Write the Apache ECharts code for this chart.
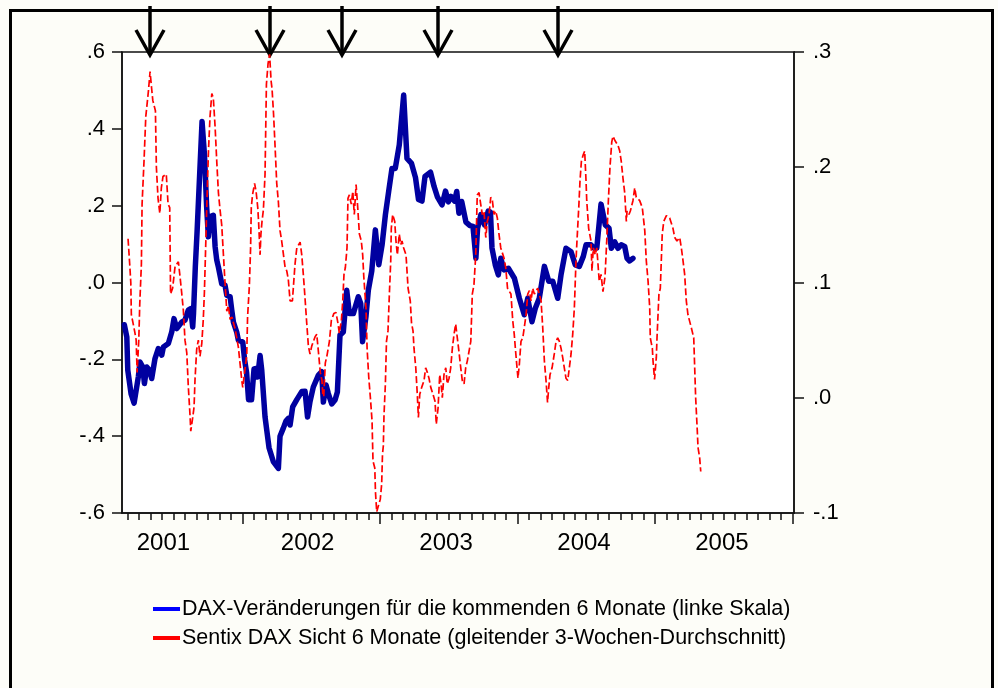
<!DOCTYPE html>
<html>
<head>
<meta charset="utf-8">
<script src="https://cdn.jsdelivr.net/npm/echarts@6/dist/echarts.min.js"></script>
<style>
  html, body { margin: 0; padding: 0; background: #fdfdf8; }
  #chart { width: 998px; height: 688px; }
</style>
</head>
<body>
<div id="chart"></div>
<script>
// DAX change over the following 6 months (left scale); dates as decimal years
const daxDates = [
  2001.142,2001.160,2001.167,2001.191,2001.213,2001.244,2001.256,2001.276,2001.288,2001.305,
  2001.324,2001.341,2001.365,2001.389,2001.414,2001.426,2001.462,2001.487,2001.503,2001.523,
  2001.559,2001.583,2001.607,2001.625,2001.639,2001.645,2001.658,2001.671,2001.707,2001.725,
  2001.740,2001.753,2001.765,2001.789,2001.802,2001.814,2001.826,2001.850,2001.874,2001.887,
  2001.911,2001.923,2001.935,2001.959,2001.971,2002.003,2002.016,2002.031,2002.045,2002.067,
  2002.085,2002.100,2002.111,2002.129,2002.141,2002.165,2002.194,2002.225,2002.262,2002.274,
  2002.298,2002.318,2002.334,2002.347,2002.366,2002.396,2002.432,2002.456,2002.474,2002.492,
  2002.516,2002.553,2002.577,2002.589,2002.609,2002.625,2002.650,2002.674,2002.691,2002.710,
  2002.734,2002.759,2002.778,2002.807,2002.843,2002.861,2002.874,2002.899,2002.916,2002.941,
  2002.967,2002.992,2003.016,2003.040,2003.064,2003.088,2003.112,2003.141,2003.173,2003.197,
  2003.230,2003.259,2003.281,2003.306,2003.328,2003.368,2003.394,2003.419,2003.452,2003.477,
  2003.498,2003.517,2003.543,2003.559,2003.575,2003.595,2003.626,2003.655,2003.677,2003.698,
  2003.710,2003.735,2003.761,2003.788,2003.804,2003.815,2003.839,2003.861,2003.879,2003.903,
  2003.934,2003.978,2004.014,2004.050,2004.075,2004.106,2004.130,2004.159,2004.196,2004.228,
  2004.257,2004.293,2004.317,2004.353,2004.390,2004.421,2004.450,2004.479,2004.499,2004.535,
  2004.559,2004.577,2004.608,2004.639,2004.666,2004.683,2004.707,2004.731,2004.755,2004.780,
  2004.797,2004.816,2004.840
];
const daxChange = [
  -0.110,-0.142,-0.228,-0.290,-0.314,-0.245,-0.207,-0.220,-0.263,-0.220,
  -0.228,-0.250,-0.198,-0.172,-0.189,-0.168,-0.159,-0.128,-0.094,-0.120,
  -0.103,-0.098,-0.072,-0.068,-0.116,-0.080,0.040,0.133,0.419,0.330,
  0.200,0.119,0.171,0.175,0.093,0.058,0.040,-0.003,-0.007,-0.033,
  -0.037,-0.072,-0.103,-0.129,-0.150,-0.155,-0.200,-0.235,-0.305,-0.305,
  -0.225,-0.224,-0.246,-0.190,-0.228,-0.350,-0.430,-0.466,-0.484,-0.400,
  -0.379,-0.360,-0.354,-0.371,-0.324,-0.305,-0.284,-0.283,-0.350,-0.310,
  -0.272,-0.241,-0.232,-0.311,-0.267,-0.289,-0.316,-0.306,-0.285,-0.137,
  -0.129,-0.020,-0.081,-0.081,-0.037,-0.055,-0.154,-0.088,-0.020,0.030,
  0.137,0.046,0.098,0.176,0.237,0.297,0.297,0.358,0.488,0.323,
  0.310,0.273,0.216,0.212,0.276,0.287,0.250,0.222,0.202,0.238,
  0.210,0.224,0.212,0.237,0.180,0.211,0.157,0.148,0.146,0.063,
  0.140,0.177,0.150,0.186,0.183,0.090,0.046,0.020,0.063,0.033,
  0.037,0.011,-0.041,-0.084,-0.041,-0.102,-0.067,-0.041,0.042,0.003,
  0.003,-0.041,0.020,0.089,0.080,0.046,0.042,0.068,0.098,0.098,
  0.089,0.090,0.204,0.150,0.141,0.089,0.106,0.089,0.098,0.094,
  0.063,0.056,0.063
];

// Sentix DAX 6-month view, 3-week moving average (right scale)
const sentixDates = [
  2001.169,2001.181,2001.189,2001.193,2001.205,2001.218,2001.228,2001.235,2001.247,2001.254,
  2001.266,2001.271,2001.285,2001.298,2001.317,2001.329,2001.340,2001.349,2001.368,2001.375,
  2001.387,2001.400,2001.411,2001.423,2001.447,2001.460,2001.472,2001.478,2001.493,2001.511,
  2001.535,2001.547,2001.559,2001.571,2001.583,2001.596,2001.607,2001.620,2001.625,2001.637,
  2001.649,2001.656,2001.668,2001.680,2001.692,2001.705,2001.716,2001.724,2001.732,2001.746,
  2001.754,2001.765,2001.778,2001.789,2001.802,2001.814,2001.826,2001.838,2001.850,2001.862,
  2001.874,2001.887,2001.898,2001.911,2001.925,2001.935,2001.947,2001.959,2001.971,2001.983,
  2001.996,2002.003,2002.012,2002.023,2002.032,2002.038,2002.051,2002.060,2002.065,2002.074,
  2002.089,2002.100,2002.112,2002.118,2002.129,2002.135,2002.143,2002.153,2002.165,2002.175,
  2002.187,2002.198,2002.209,2002.216,2002.227,2002.238,2002.250,2002.262,2002.274,2002.286,
  2002.298,2002.310,2002.323,2002.334,2002.347,2002.364,2002.371,2002.383,2002.396,2002.420,
  2002.432,2002.444,2002.456,2002.468,2002.480,2002.492,2002.505,2002.529,2002.541,2002.553,
  2002.567,2002.579,2002.585,2002.592,2002.603,2002.616,2002.633,2002.647,2002.665,2002.681,
  2002.696,2002.705,2002.720,2002.730,2002.739,2002.749,2002.761,2002.768,2002.778,2002.792,
  2002.803,2002.814,2002.827,2002.839,2002.851,2002.865,2002.875,2002.883,2002.899,2002.907,
  2002.919,2002.931,2002.943,2002.950,2002.963,2002.968,2002.977,2002.987,2003.003,2003.013,
  2003.019,2003.025,2003.030,2003.040,2003.048,2003.059,2003.069,2003.079,2003.083,2003.093,
  2003.108,2003.117,2003.127,2003.141,2003.152,2003.161,2003.173,2003.190,2003.205,2003.221,
  2003.230,2003.241,2003.248,2003.261,2003.272,2003.280,2003.290,2003.304,2003.321,2003.333,
  2003.345,2003.357,2003.370,2003.386,2003.401,2003.410,2003.423,2003.435,2003.445,2003.454,
  2003.466,2003.479,2003.490,2003.503,2003.515,2003.527,2003.539,2003.551,2003.563,2003.575,
  2003.588,2003.599,2003.612,2003.624,2003.636,2003.648,2003.661,2003.672,2003.684,2003.697,
  2003.708,2003.721,2003.733,2003.745,2003.757,2003.770,2003.781,2003.794,2003.806,2003.818,
  2003.830,2003.842,2003.854,2003.866,2003.879,2003.890,2003.903,2003.915,2003.928,2003.953,
  2003.966,2003.977,2003.985,2003.995,2004.004,2004.014,2004.026,2004.039,2004.050,2004.063,
  2004.075,2004.087,2004.099,2004.111,2004.123,2004.135,2004.148,2004.159,2004.172,2004.184,
  2004.196,2004.208,2004.219,2004.228,2004.237,2004.252,2004.268,2004.281,2004.293,2004.305,
  2004.317,2004.329,2004.341,2004.353,2004.366,2004.377,2004.390,2004.402,2004.414,2004.426,
  2004.433,2004.446,2004.455,2004.465,2004.479,2004.489,2004.499,2004.504,2004.518,2004.535,
  2004.542,2004.552,2004.566,2004.577,2004.584,2004.595,2004.608,2004.622,2004.637,2004.649,
  2004.661,2004.673,2004.686,2004.695,2004.710,2004.731,2004.744,2004.755,2004.768,2004.780,
  2004.792,2004.797,2004.811,2004.821,2004.840,2004.853,2004.864,2004.889,2004.908,2004.926,
  2004.937,2004.950,2004.962,2004.966,2004.981,2004.986,2004.997,2005.010,2005.015,2005.029,
  2005.039,2005.053,2005.064,2005.083,2005.095,2005.107,2005.131,2005.144,2005.160,2005.180,
  2005.192,2005.204,2005.216,2005.228,2005.240,2005.264,2005.282,2005.289,2005.296,2005.308,
  2005.313,2005.325,2005.333
];
const sentixValue = [
  0.138,0.116,0.100,0.072,0.065,0.057,0.050,0.022,0.050,0.081,
  0.116,0.168,0.205,0.244,0.266,0.283,0.269,0.258,0.249,0.200,
  0.173,0.160,0.182,0.192,0.194,0.168,0.165,0.090,0.095,0.114,
  0.118,0.105,0.091,0.076,0.050,0.039,0.010,-0.016,-0.029,-0.019,
  -0.008,0.016,0.042,0.050,0.036,0.047,0.068,0.091,0.125,0.185,
  0.215,0.244,0.264,0.260,0.235,0.205,0.178,0.163,0.150,0.125,
  0.100,0.075,0.080,0.068,0.070,0.065,0.060,0.052,0.044,0.030,
  0.015,0.009,0.018,0.028,0.037,0.070,0.097,0.130,0.165,0.176,
  0.186,0.179,0.165,0.153,0.124,0.142,0.153,0.163,0.194,0.272,
  0.290,0.298,0.275,0.268,0.246,0.218,0.186,0.170,0.145,0.136,
  0.125,0.114,0.110,0.103,0.084,0.084,0.096,0.116,0.130,0.135,
  0.124,0.106,0.086,0.065,0.045,0.038,0.045,0.053,0.055,0.040,
  0.022,0.015,0.003,0.001,0.030,0.037,0.049,0.067,0.073,0.074,
  0.064,0.056,0.067,0.084,0.107,0.113,0.130,0.173,0.176,0.168,
  0.179,0.159,0.185,0.165,0.142,0.136,0.124,0.105,0.078,0.043,
  0.018,0.000,-0.020,-0.055,-0.061,-0.082,-0.099,-0.098,-0.088,-0.075,
  -0.049,-0.042,-0.015,0.012,0.049,0.058,0.090,0.119,0.147,0.159,
  0.153,0.136,0.124,0.142,0.133,0.136,0.130,0.124,0.095,0.084,
  0.065,0.058,0.043,0.026,0.003,-0.017,0.003,0.009,0.015,0.026,
  0.022,0.017,0.009,0.003,-0.003,-0.023,-0.009,0.020,0.012,0.000,
  0.020,0.026,0.012,0.017,0.026,0.043,0.055,0.064,0.052,0.040,
  0.026,0.015,0.012,0.026,0.032,0.032,0.049,0.090,0.098,0.124,
  0.176,0.178,0.168,0.159,0.162,0.139,0.153,0.159,0.174,0.171,
  0.159,0.162,0.156,0.142,0.130,0.130,0.121,0.113,0.095,0.090,
  0.067,0.055,0.043,0.029,0.017,0.029,0.049,0.052,0.061,0.072,
  0.090,0.093,0.084,0.095,0.090,0.093,0.095,0.090,0.084,0.061,
  0.032,0.015,-0.004,0.009,0.020,0.026,0.038,0.049,0.052,0.049,
  0.043,0.035,0.026,0.017,0.015,0.015,0.038,0.055,0.078,0.119,
  0.136,0.165,0.188,0.205,0.211,0.214,0.188,0.171,0.147,0.136,
  0.110,0.130,0.124,0.130,0.119,0.101,0.107,0.092,0.105,0.135,
  0.170,0.200,0.222,0.227,0.223,0.219,0.214,0.205,0.190,0.178,
  0.153,0.162,0.159,0.162,0.171,0.182,0.174,0.171,0.165,0.145,
  0.119,0.101,0.078,0.052,0.043,0.032,0.016,0.035,0.052,0.090,
  0.095,0.142,0.153,0.158,0.159,0.156,0.147,0.139,0.136,0.139,
  0.130,0.119,0.107,0.084,0.072,0.061,0.052,0.026,0.000,-0.029,
  -0.043,-0.052,-0.064
];

// Dates flagged with arrows above the plot
const arrowDates = [2001.329, 2002.201, 2002.728, 2003.425, 2004.297];

// Time axis: visible range, year boundaries and year-label anchors
const xRange = [2001.125, 2006.011];
const yearTicks = [2002, 2003, 2004, 2005, 2006];
const yearLabelAnchors = [2001.426, 2002.474, 2003.481, 2004.484, 2005.487];

const seriesNames = [
  'DAX-Veränderungen für die kommenden 6 Monate (linke Skala)',
  'Sentix DAX Sicht 6 Monate (gleitender 3-Wochen-Durchschnitt)'
];

// monthly minor ticks (skipping the year boundaries)
const monthTicks = [];
for (let y = 2001; y <= 2005; y++) {
  for (let m = 1; m < 12; m++) {
    const v = y + m / 12;
    if (v > xRange[0] && v < xRange[1]) monthTicks.push(v);
  }
}

const FONT = '"Liberation Sans", Arial, Helvetica, sans-serif';
const AXIS_COLOR = '#111';

// ".6", "-.2", ".0" style labels
function dotLabel(v) {
  const s = Math.abs(v).toFixed(1).replace(/^0/, '');
  return (v < -1e-9 ? '-' : '') + s;
}

function pairs(xs, ys) { return xs.map((x, i) => [x, ys[i]]); }

const chart = echarts.init(document.getElementById('chart'), null, { renderer: 'canvas' });

const option = {
  backgroundColor: '#fdfdf8',
  animation: false,
  grid: {
    left: 122, top: 52, right: 204, bottom: 175,
    show: true, backgroundColor: '#ffffff', borderColor: AXIS_COLOR, borderWidth: 1.5
  },
  legend: {
    orient: 'vertical', left: 148, top: 593,
    itemWidth: 27, itemHeight: 4, itemGap: 7, icon: 'rect',
    textStyle: { fontFamily: FONT, fontSize: 21.5, color: '#000', lineHeight: 22, padding: [0, 0, 0, -3] },
    data: [
      { name: seriesNames[0], itemStyle: { color: '#0000ff' } },
      { name: seriesNames[1], itemStyle: { color: '#ff0000' } }
    ]
  },
  xAxis: [
    {
      type: 'value', min: xRange[0], max: xRange[1],
      axisLine: { show: true, onZero: false, lineStyle: { color: AXIS_COLOR, width: 1.5 } },
      axisTick: { show: true, customValues: yearTicks, length: 11, lineStyle: { color: AXIS_COLOR, width: 1.5 } },
      axisLabel: {
        show: true, customValues: yearLabelAnchors, margin: 18,
        formatter: v => String(Math.floor(v)),
        fontFamily: FONT, fontSize: 24, color: '#000'
      },
      splitLine: { show: false }
    },
    {
      type: 'value', min: xRange[0], max: xRange[1], position: 'bottom',
      axisLine: { show: false, onZero: false },
      axisTick: { show: true, customValues: monthTicks, length: 7, lineStyle: { color: AXIS_COLOR, width: 1.5 } },
      axisLabel: { show: false },
      splitLine: { show: false }
    }
  ],
  yAxis: [
    {
      type: 'value', min: -0.6, max: 0.6, interval: 0.2, position: 'left',
      axisLine: { show: true, onZero: false, lineStyle: { color: AXIS_COLOR, width: 1.5 } },
      axisTick: { show: true, length: 10, lineStyle: { color: AXIS_COLOR, width: 1.5 } },
      axisLabel: { formatter: dotLabel, margin: 17, fontFamily: FONT, fontSize: 22, color: '#000' },
      splitLine: { show: false }
    },
    {
      type: 'value', min: -0.1, max: 0.3, interval: 0.1, position: 'right',
      axisLine: { show: true, onZero: false, lineStyle: { color: AXIS_COLOR, width: 1.5 } },
      axisTick: { show: true, length: 10, lineStyle: { color: AXIS_COLOR, width: 1.5 } },
      axisLabel: { formatter: dotLabel, margin: 19, fontFamily: FONT, fontSize: 22, color: '#000' },
      splitLine: { show: false }
    }
  ],
  series: [
    {
      name: seriesNames[0], type: 'line', xAxisIndex: 0, yAxisIndex: 0,
      data: pairs(daxDates, daxChange),
      showSymbol: false, z: 2,
      lineStyle: { color: '#0000a0', width: 5.5, join: 'round', cap: 'round' },
      itemStyle: { color: '#0000a0' }
    },
    {
      name: seriesNames[1], type: 'line', xAxisIndex: 0, yAxisIndex: 1,
      data: pairs(sentixDates, sentixValue),
      showSymbol: false, z: 3,
      lineStyle: { color: '#ff0000', width: 1.7, type: [7, 3] },
      itemStyle: { color: '#ff0000' }
    }
  ]
};

chart.setOption(option);

// outer frame and date arrows, placed through the x scale
const graphics = [
  {
    type: 'rect', id: 'frame', z: 100,
    shape: { x: 10.5, y: 10.5, width: 982, height: 720 },
    style: { fill: 'none', stroke: '#000', lineWidth: 3 }
  }
];
arrowDates.forEach((d, i) => {
  const x = Math.round(chart.convertToPixel({ xAxisIndex: 0 }, d));
  graphics.push({
    type: 'group', id: 'arrow' + i, z: 100,
    children: [
      { type: 'line', shape: { x1: x, y1: 6, x2: x, y2: 54 }, style: { stroke: '#000', lineWidth: 3.5 } },
      { type: 'polyline', shape: { points: [[x - 14, 30], [x, 55], [x + 14, 30]] },
        style: { stroke: '#000', lineWidth: 3.5, fill: 'none', lineJoin: 'miter' } }
    ]
  });
});
chart.setOption({ graphic: graphics });
</script>
</body>
</html>
